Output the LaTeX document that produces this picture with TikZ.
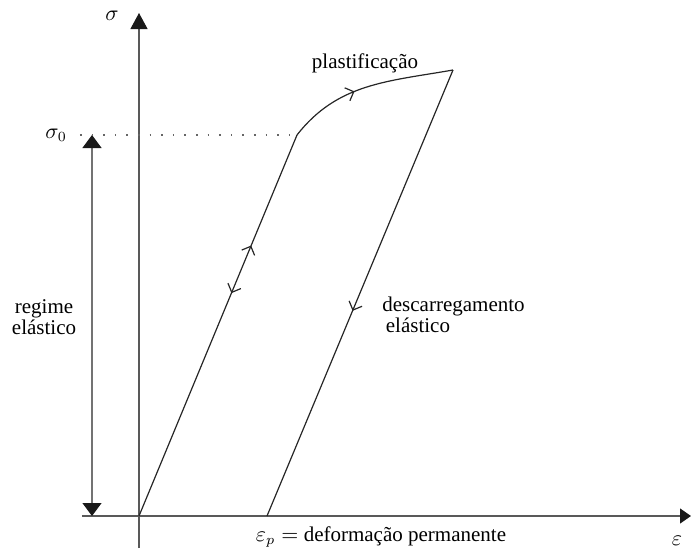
\documentclass[tikz,border=0pt]{standalone}
\usepackage{fontspec}
\setmainfont{Liberation Serif}
\usetikzlibrary{arrows.meta,decorations.markings}

\tikzset{
  axis/.style={draw=black!65, line width=0.6pt},
  curve/.style={draw=black!85, line width=0.6pt},
  midarrow/.style={postaction={decorate}, decoration={markings,
      mark=at position #1 with {\arrow{Straight Barb[length=3.5pt,width=7pt]}}}},
  txt/.style={font=\fontsize{10.5}{10.5}\selectfont, inner sep=0pt},
}

\begin{document}
\begin{tikzpicture}[x=0.5pt,y=0.5pt]
    \useasboundingbox (-139,-32) rectangle (552,516);

    % points
    \coordinate (O) at (0,0);
    \coordinate (sigtop) at (0,503);
    \coordinate (sigbot) at (0,-32);
    \coordinate (epsleft) at (-57,0);
    \coordinate (epsright) at (552,0);
    \coordinate (Y) at (158,381);
    \coordinate (P) at (314,446);
    \coordinate (Ep) at (128,0);
    \coordinate (rtop) at (-47,381);
    \coordinate (rbot) at (-47,0);
    \coordinate (dotstart) at (-59,381);

    % axes
    \draw[axis, -{Triangle[length=8pt,width=8.5pt,color=black!90]}] (sigbot) -- (sigtop);
    \draw[axis, -{Triangle[length=5.5pt,width=7.5pt,color=black!90]}] (epsleft) -- (epsright);

    % elastic range and yield level
    \draw[draw=black!55, line width=0.6pt,
        {Triangle[length=6.5pt,width=9.5pt,color=black!90]}-{Triangle[length=6.5pt,width=9.5pt,color=black!90]}] (rbot) -- (rtop);
    \draw[black!60, line width=0.7pt, dash pattern=on 0.8pt off 5pt] (dotstart) -- (Y);

    % loading, hardening, unloading
    \draw[curve, postaction={decorate}, decoration={markings,
        mark=at position 0.585 with {\arrowreversed{Straight Barb[length=3.5pt,width=7pt]}},
        mark=at position 0.71 with {\arrow{Straight Barb[length=3.5pt,width=7pt]}}}] (O) -- (Y);
    \draw[curve, midarrow=0.42] (Y) to[out=52,in=190] (P);
    \draw[curve, midarrow=0.54] (P) -- (Ep);

    % labels
    \node[txt] (sig) at (-27,500) {$\sigma$};
    \node[txt] (sig0) at (-83,381) {$\sigma_0$};
    \node[txt, align=center] (elast) at (-95,199) {regime\\elástico};
    \node[txt] (plast) at (226,453) {plastificação};
    \node[txt, align=left, anchor=west] (unload) at (243,201) {descarregamento\\\,elástico};
    \node[txt] (perm) at (242,-21) {$\varepsilon_p =$ deformação permanente};
    \node[txt] (eps) at (538,-25) {$\varepsilon$};
\end{tikzpicture}
\end{document}
